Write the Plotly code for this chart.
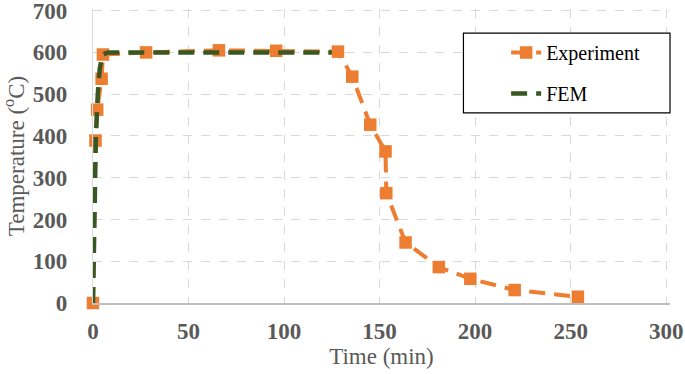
import plotly.graph_objects as go

# Data
exp_time = [0, 1.3, 2.2, 4.5, 5.2, 27.8, 65.9, 95.9, 128.2, 135.7, 145.1, 153.1, 153.5,
            163.6, 181.0, 197.5, 220.7, 253.8]
exp_temp = [0, 389, 463, 537, 595, 600, 605, 604, 602, 542, 427, 363, 263,
            145, 86, 58, 31, 15]

fem_time = [0, 0.5, 1.0, 1.5, 2.5, 3.5, 5, 8, 125]
fem_temp = [0, 150, 300, 400, 500, 560, 595, 600, 600]

x_ticks = [0, 50, 100, 150, 200, 250, 300]
y_ticks = [0, 100, 200, 300, 400, 500, 600, 700]

ORANGE = "#ED7D31"
GREEN = "#385723"
GRAY = "#595959"
SERIF = "Liberation Serif"

fig = go.Figure()
fig.add_trace(go.Scatter(
    x=exp_time, y=exp_temp, name="Experiment", mode="lines+markers",
    line=dict(color=ORANGE, width=4, dash="16px,9px"),
    marker=dict(symbol="square", size=12.5, color=ORANGE),
    legendgroup="a", cliponaxis=False,
))
fig.add_trace(go.Scatter(
    x=fem_time, y=fem_temp, name="FEM", mode="lines",
    line=dict(color=GREEN, width=4.5, dash="16px,9px"),
    legendgroup="b", cliponaxis=False,
))

# legend frame (layout decoration)
fig.add_shape(type="rect", xref="paper", yref="paper",
              x0=0.642, x1=1.0, y0=0.647, y1=0.918,
              line=dict(color="#000000", width=1.2), fillcolor="white", layer="above")

fig.update_layout(
    width=685, height=374,
    margin=dict(l=93, r=15, t=9, b=71, autoexpand=False),
    plot_bgcolor="white", paper_bgcolor="white",
    font=dict(family=SERIF, color=GRAY),
    showlegend=True,
    legend=dict(
        x=0.716, y=0.918, xanchor="left", yanchor="top",
        borderwidth=0, bgcolor="rgba(0,0,0,0)",
        font=dict(family=SERIF, size=20, color="#000000"),
        tracegroupgap=12, traceorder="grouped",
    ),
    xaxis=dict(
        range=[0, 302], tickvals=x_ticks, ticktext=[str(v) for v in x_ticks],
        showgrid=True, gridcolor="#D9D9D9", griddash="dash", gridwidth=1.3,
        showline=True, linecolor="#BFBFBF", linewidth=1.5,
        zeroline=False, automargin=False, ticklabeloverflow="allow",
        tickfont=dict(family=SERIF, size=23, color=GRAY, weight="bold"),
        ticklabelstandoff=7,
        title=dict(text="Time (min)", font=dict(family=SERIF, size=23, color=GRAY), standoff=5),
    ),
    yaxis=dict(
        range=[0, 704], tickvals=y_ticks, ticktext=[str(v) for v in y_ticks],
        showgrid=True, gridcolor="#D9D9D9", griddash="dash", gridwidth=1.3,
        showline=True, linecolor="#D9D9D9", linewidth=1.3,
        zeroline=False, automargin=False, ticklabeloverflow="allow",
        tickfont=dict(family=SERIF, size=23, color=GRAY, weight="bold"),
        ticklabelstandoff=20,
        title=dict(text="Temperature (<sup>o</sup>C)", font=dict(family=SERIF, size=23, color=GRAY), standoff=6),
    ),
)

fig.write_html("out.html",
               config={"displayModeBar": False},
               post_script="document.body.style.margin='0';document.body.style.padding='0';")
